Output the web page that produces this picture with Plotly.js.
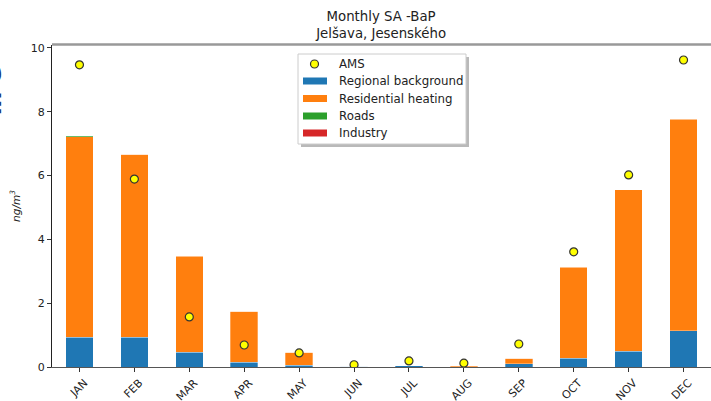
<!DOCTYPE html>
<html>
<head>
<meta charset="utf-8">
<script src="https://cdn.plot.ly/plotly-3.0.1.min.js"></script>
<style>html,body{margin:0;padding:0;background:#fff;}#chart{width:711px;height:401px;}</style>
</head>
<body>
<div id="chart"></div>
<script>
const months = ["JAN","FEB","MAR","APR","MAY","JUN","JUL","AUG","SEP","OCT","NOV","DEC"];
const regional = [0.94, 0.94, 0.47, 0.15, 0.06, 0.03, 0.04, 0.01, 0.10, 0.28, 0.50, 1.13];
const residential = [6.27, 5.72, 3.00, 1.59, 0.40, 0.00, 0.00, 0.03, 0.18, 2.85, 5.05, 6.63];
const roads = [0.03, 0.01, 0.01, 0.01, 0.00, 0.00, 0.00, 0.00, 0.00, 0.01, 0.01, 0.02];
const industry = [0.00, 0.00, 0.00, 0.00, 0.00, 0.00, 0.00, 0.00, 0.00, 0.00, 0.00, 0.00];
const ams = [9.47, 5.89, 1.57, 0.69, 0.44, 0.07, 0.19, 0.12, 0.72, 3.61, 6.02, 9.62];
const seriesNames = ["AMS", "Regional background", "Residential heating", "Roads", "Industry"];
const seriesColors = ["#ffff00", "#1f77b4", "#ff7f0e", "#2ca02c", "#d62728"];

const font = "DejaVu Sans, sans-serif";
const edge = {color: "rgba(255,255,255,0.5)", width: 0.6};
function bar(i, y) {
  return {type: "bar", name: seriesNames[i], x: months, y: y, width: 0.5, showlegend: false,
          marker: {color: seriesColors[i], line: edge}};
}
const traces = [
  {type: "scatter", mode: "markers", name: seriesNames[0], x: months, y: ams, showlegend: false,
   marker: {color: seriesColors[0], size: 8, line: {color: "#333", width: 1.2}}},
  bar(1, regional), bar(2, residential), bar(3, roads), bar(4, industry)
];

// plot area in pixels: x 52..711, y 45..367
const L = 52, R = 711, T = 45, B = 367;
const px = x => (x - L) / (R - L);
const py = y => (B - y) / (B - T);

const shapes = [
  {type: "line", xref: "paper", yref: "paper", x0: 0, x1: 1, y0: py(44.5), y1: py(44.5),
   line: {color: "#999", width: 2.5}},
  // legend shadow + frame
  {type: "rect", xref: "paper", yref: "paper", x0: px(301), x1: px(469), y0: py(57), y1: py(147),
   fillcolor: "rgba(128,128,128,0.55)", line: {width: 0}},
  {type: "rect", xref: "paper", yref: "paper", x0: px(298), x1: px(466), y0: py(54), y1: py(144),
   fillcolor: "#fff", line: {color: "#ccc", width: 1}}
];
const annotations = [];
const rowY = [64, 81, 98.5, 116, 133];
seriesNames.forEach((n, i) => {
  const y = rowY[i];
  if (i === 0) {
    shapes.push({type: "circle", xref: "paper", yref: "paper",
      x0: px(310.5), x1: px(318.5), y0: py(60), y1: py(68),
      fillcolor: seriesColors[0], line: {color: "#333", width: 1.2}});
  } else {
    shapes.push({type: "rect", xref: "paper", yref: "paper",
      x0: px(303), x1: px(327), y0: py(y - 3.5), y1: py(y + 3.5),
      fillcolor: seriesColors[i], line: {width: 0}});
  }
  annotations.push({xref: "paper", yref: "paper", x: px(337), y: py(y), xanchor: "left", yanchor: "middle",
    text: n, showarrow: false, font: {family: font, size: 11.8, color: "#222"}});
});
// cut-off dark blue text at left edge of the reference
annotations.push({xref: "paper", yref: "paper", x: px(-7), y: py(91), xanchor: "center", yanchor: "middle",
  text: "<b>in G</b>", textangle: -90, showarrow: false, font: {family: font, size: 22, color: "#1a3a7a"}});

const layout = {
  width: 711, height: 401,
  margin: {l: 52, r: 0, t: 45, b: 34},
  paper_bgcolor: "#fff", plot_bgcolor: "#fff",
  font: {family: font, size: 11, color: "#222"},
  barmode: "stack",
  showlegend: false,
  title: {text: "Monthly SA -BaP<br>Jelšava, Jesenského", x: 0.536, xanchor: "center",
          yref: "container", y: 0.948, yanchor: "top", font: {family: font, size: 13.3, color: "#222"}},
  xaxis: {range: [-0.5, 11.5], showline: true, linecolor: "#555", linewidth: 1.2,
          ticks: "outside", ticklen: 4, tickcolor: "#333", tickangle: -45, ticklabelshift: 5,
          tickfont: {family: font, size: 11, color: "#222"}, showgrid: false, zeroline: false},
  yaxis: {range: [0, 10.09], showline: true, linecolor: "#222", linewidth: 1,
          ticks: "outside", ticklen: 4, tickcolor: "#333", tickvals: [0,2,4,6,8,10],
          tickfont: {family: font, size: 11, color: "#222"}, showgrid: false, zeroline: false,
          title: {text: "<i>ng/m<sup>3</sup></i>", standoff: 8, font: {family: font, size: 10.5, color: "#222"}}},
  shapes: shapes,
  annotations: annotations
};
Plotly.newPlot("chart", traces, layout, {displayModeBar: false, staticPlot: true});
</script>
</body>
</html>
